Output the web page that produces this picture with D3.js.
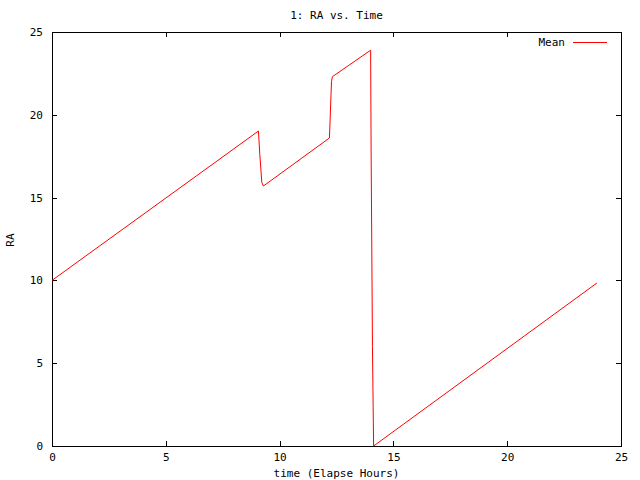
<!DOCTYPE html>
<html>
<head>
<meta charset="utf-8">
<script src="https://cdn.jsdelivr.net/npm/d3@7"></script>
<style>
  body { margin: 0; background: #fff; }
  svg text { font-family: "DejaVu Sans Mono", "Liberation Mono", monospace; font-size: 11px; fill: #000; }
</style>
</head>
<body>
<script>
//data
let times = [0, 9.07, 9.13, 9.22, 9.29, 12.19, 12.28, 12.32, 14.0, 14.02, 14.08, 14.13, 23.94];
let raMean = [10.0, 19.02, 17.6, 15.9, 15.7, 18.6, 22.0, 22.3, 23.9, 18.0, 6.0, 0.0, 9.84];
let xTicks = [0, 5, 10, 15, 20, 25];
let yTicks = [0, 5, 10, 15, 20, 25];

let width = 640,
    height = 480;
let margin = {top: 32, right: 19, bottom: 34, left: 52};

let svg = d3.select("body")
    .append("svg")
    .attr("width", width)
    .attr("height", height);

let x = d3.scaleLinear().domain([0, 25]).range([margin.left, width - margin.right]);
let y = d3.scaleLinear().domain([0, 25]).range([height - margin.bottom, margin.top]);

//bottom and left axes with inward ticks
svg.append("g")
    .attr("transform", "translate(0," + y(0) + ")")
    .call(d3.axisBottom(x).tickValues(xTicks).tickSize(-5).tickPadding(7).tickFormat(d3.format("d")))
    .call(g => g.select(".domain").remove());
svg.append("g")
    .attr("transform", "translate(" + x(0) + ",0)")
    .call(d3.axisLeft(y).tickValues(yTicks).tickSize(-5).tickPadding(9).tickFormat(d3.format("d")))
    .call(g => g.select(".domain").remove());
//mirrored ticks
svg.append("g")
    .attr("transform", "translate(0," + y(25) + ")")
    .call(d3.axisTop(x).tickValues(xTicks).tickSize(-5).tickFormat(""))
    .call(g => g.select(".domain").remove());
svg.append("g")
    .attr("transform", "translate(" + x(25) + ",0)")
    .call(d3.axisRight(y).tickValues(yTicks).tickSize(-5).tickFormat(""))
    .call(g => g.select(".domain").remove());

svg.selectAll(".tick line").attr("stroke", "#000").attr("shape-rendering", "crispEdges");
svg.selectAll(".tick text").attr("fill", "#000").style("font-size", "11px");

//frame
svg.append("rect")
    .attr("x", x(0) + 0.5)
    .attr("y", y(25) + 0.5)
    .attr("width", x(25) - x(0))
    .attr("height", y(0) - y(25))
    .attr("fill", "none")
    .attr("stroke", "#000")
    .attr("shape-rendering", "crispEdges");

//data line
let line = d3.line()
    .x((d, i) => x(times[i]))
    .y(d => y(d));
svg.append("path")
    .datum(raMean)
    .attr("fill", "none")
    .attr("stroke", "#f00")
    .attr("stroke-width", 1)
    .attr("d", line);

//title and axis labels
svg.append("text")
    .attr("x", (x(0) + x(25)) / 2)
    .attr("y", 19)
    .attr("text-anchor", "middle")
    .text("1: RA vs. Time");
svg.append("text")
    .attr("x", (x(0) + x(25)) / 2)
    .attr("y", 477)
    .attr("text-anchor", "middle")
    .text("time (Elapse Hours)");
svg.append("text")
    .attr("transform", "translate(14,240) rotate(-90)")
    .attr("text-anchor", "middle")
    .text("RA");

//legend
svg.append("text")
    .attr("x", 565)
    .attr("y", 46)
    .attr("text-anchor", "end")
    .text("Mean");
svg.append("line")
    .attr("x1", 573).attr("x2", 607)
    .attr("y1", 42.5).attr("y2", 42.5)
    .attr("stroke", "#f00");
</script>
</body>
</html>
